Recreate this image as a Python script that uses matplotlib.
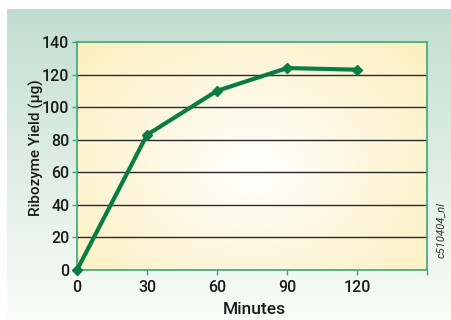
import numpy as np
import matplotlib
matplotlib.use("Agg")
import matplotlib.pyplot as plt
from matplotlib import font_manager

minutes = [0, 30, 60, 90, 120]
yield_ug = [0, 83, 110, 124, 123]
xticks = [0, 30, 60, 90, 120]
yticks = [0, 20, 40, 60, 80, 100, 120, 140]

names = {f.name for f in font_manager.fontManager.ttflist}
fam = 'Liberation Sans Narrow' if 'Liberation Sans Narrow' in names else 'Roboto'
plt.rcParams['font.family'] = [fam, 'DejaVu Sans']
WEIGHT = 'medium'

W, H = 452, 320
fig = plt.figure(figsize=(W/100, H/100), dpi=100)

# outer panel gradient (teal top -> white bottom)
bg = fig.add_axes([7/W, 0, 1-7/W, 1-9/H])
bg.set_axis_off()
t = np.linspace(0, 1, 200)[:, None]
top = np.array([0.76, 0.87, 0.82])
bot = np.array([0.98, 0.99, 0.98])
grad = top[None, None, :]*(1-t[..., None]) + bot[None, None, :]*t[..., None]
grad = np.repeat(grad, 2, axis=1)
bg.imshow(grad, aspect='auto', extent=[0, 1, 0, 1], origin='upper')
bg.set_xlim(0, 1); bg.set_ylim(0, 1)

L, R, T, B = 77, 427, 42, 270
ax = fig.add_axes([L/W, 1-B/H, (R-L)/W, (B-T)/H])
ax.set_zorder(2)
# radial gradient background
xx, yy = np.meshgrid(np.linspace(0, 1, 300), np.linspace(0, 1, 200))
d = np.sqrt(((xx-0.5)/0.75)**2 + ((yy-0.45)/0.9)**2)
d = np.clip(d, 0, 1)
c_in = np.array([1.0, 1.0, 0.99])
c_out = np.array([0.99, 0.93, 0.72])
img = c_in[None, None, :]*(1-d[..., None]) + c_out[None, None, :]*d[..., None]
ax.imshow(img, aspect='auto', extent=[0, 150, 0, 140], origin='lower', zorder=0)

for y in yticks[1:-1]:
    ax.axhline(y, color='#2a2a2a', lw=1.0, zorder=1)

green = '#0a7d45'
ax.plot(minutes, yield_ug, color=green, lw=3, marker='D', ms=5.5, zorder=3, clip_on=False)

ax.set_xlim(0, 150)
ax.set_ylim(0, 140)
ax.set_xticks(xticks + [150])
ax.set_xticklabels([str(v) for v in xticks] + [''])
ax.set_yticks(yticks)
ax.set_yticklabels([str(v) for v in yticks])
spc = '#3aa878'
for s in ax.spines.values():
    s.set_color(spc)
    s.set_linewidth(1.2)
ax.tick_params(axis='both', labelsize=11.5, length=3.5, width=1, pad=2)
ax.tick_params(axis='x', color=spc, pad=3.5)
ax.tick_params(axis='y', color=spc, pad=2)
for lab in ax.get_xticklabels() + ax.get_yticklabels():
    lab.set_color('#1a1a1a')
    lab.set_fontweight(WEIGHT)
ax.set_xlabel('Minutes', fontsize=12.5, color='#1a1a1a', fontweight=WEIGHT, va='center')
ax.xaxis.set_label_coords((254.5-L)/(R-L), (B-309)/(B-T))
ax.set_ylabel('Ribozyme Yield (\u03bcg)', fontsize=11, color='#1a1a1a', fontweight=WEIGHT, va='center')
ax.yaxis.set_label_coords((36-L)/(R-L), (B-147.5)/(B-T))

fig.text(441/W, 1-230/H, 'c510404_nl', rotation=90, fontsize=8, style='italic',
         color='#333333', ha='center', va='center')

fig.savefig('out.png', dpi=100)
